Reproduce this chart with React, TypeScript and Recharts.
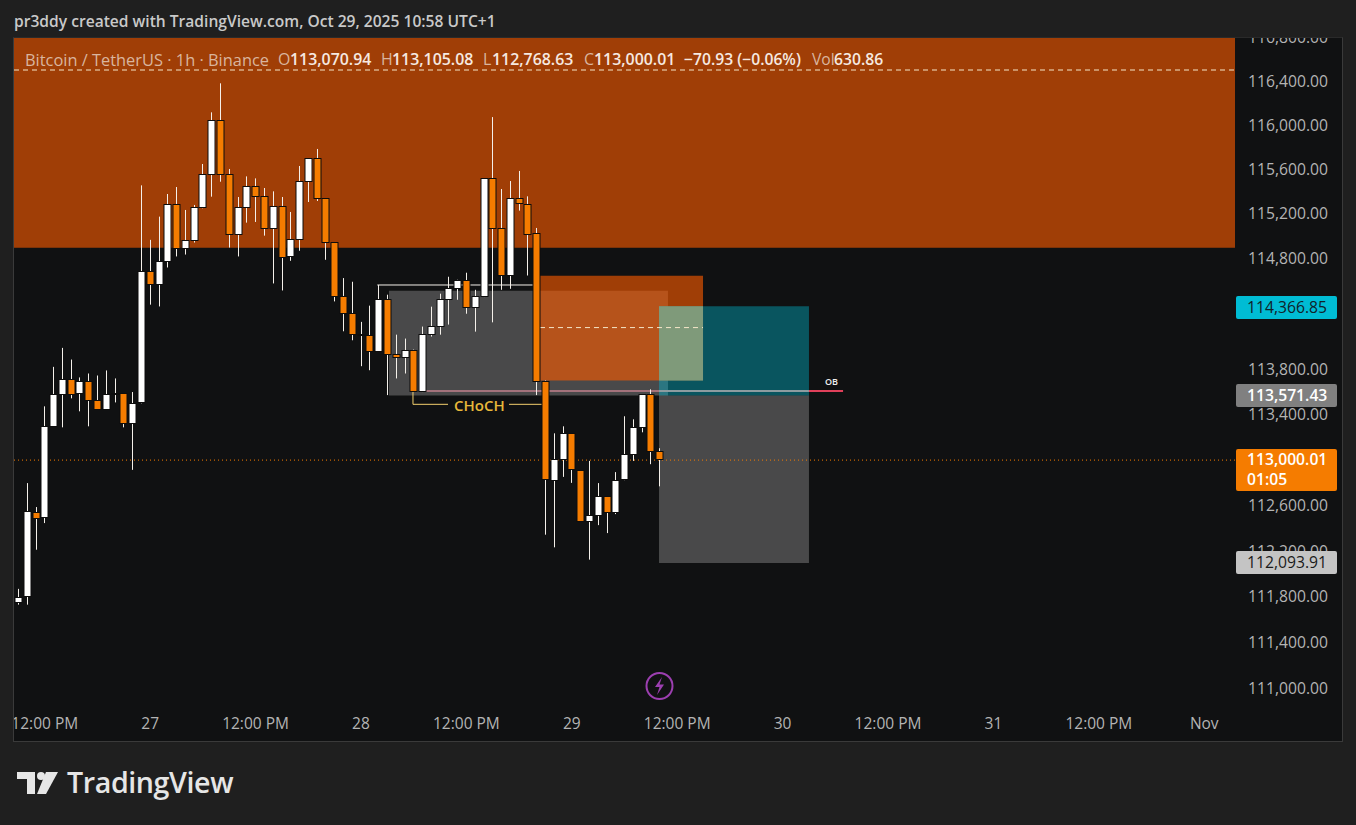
import { Bar, ComposedChart, ReferenceArea, ReferenceLine, XAxis, YAxis } from "recharts";

const opens = [111745, 111795, 112536, 112486, 113296, 113580, 113709, 113580, 113691, 113523, 113447, 113590, 113585, 113323, 113503, 114674, 114558, 114763, 115274, 114880, 114951, 115247, 115544, 116033, 115544, 115005, 115247, 115436, 115346, 115059, 115256, 114808, 114960, 115481, 115689, 115328, 114933, 114450, 114299, 114115, 114103, 113960, 114423, 113934, 113904, 113969, 113603, 114108, 114183, 114423, 114522, 114593, 114349, 114450, 115508, 115059, 114638, 115328, 115280, 115014, 113695, 112823, 113005, 113231, 112905, 112460, 112513, 112676, 112539, 112823, 113046, 113284, 113576, 113070.94];
const highs = [111868, 112797, 112586, 113476, 113827, 113996, 113892, 113733, 113768, 113750, 113795, 113724, 113585, 113603, 115454, 114963, 115172, 115376, 115439, 115232, 115277, 115647, 116115, 116379, 115602, 115349, 115535, 115517, 115430, 115400, 115349, 115214, 115629, 115689, 115783, 115328, 114933, 114620, 114587, 114228, 114373, 114558, 114471, 114114, 114079, 113981, 114186, 114364, 114480, 114632, 114605, 114668, 114515, 115508, 116072, 115421, 115493, 115584, 115355, 115070, 113706, 113237, 113299, 113231, 112905, 112993, 112797, 112676, 112894, 113388, 113361, 113576, 113627, 113105.08];
const lows = [111730, 111730, 112211, 112445, 113296, 113290, 113547, 113432, 113299, 113447, 113447, 113511, 113290, 112914, 113503, 114382, 114366, 114715, 114814, 114831, 114939, 115247, 115352, 115487, 114894, 114814, 115118, 115124, 115001, 114572, 114509, 114775, 114865, 115304, 115313, 114784, 114411, 114144, 114064, 113833, 113797, 113960, 113576, 113724, 113768, 113603, 113603, 114097, 114114, 114204, 114426, 114301, 114141, 114450, 114224, 114515, 114524, 115226, 114643, 113576, 112343, 112232, 112852, 112799, 112460, 112124, 112427, 112357, 112524, 112823, 112993, 113246, 112964, 112768.63];
const closes = [111790, 112539, 112486, 113293, 113580, 113709, 113580, 113691, 113526, 113447, 113576, 113585, 113323, 113496, 114674, 114558, 114763, 115274, 114880, 114951, 115247, 115544, 116033, 115544, 115005, 115247, 115436, 115346, 115059, 115256, 114799, 114960, 115481, 115689, 115328, 114933, 114450, 114299, 114112, 114108, 113960, 114423, 113930, 113904, 113969, 113603, 114112, 114183, 114423, 114522, 114593, 114349, 114450, 115508, 115059, 114638, 115328, 115280, 115014, 113695, 112823, 113005, 113231, 112911, 112460, 112509, 112676, 112539, 112817, 113046, 113284, 113576, 113071, 113000.01];

const priceTicks = [116800, 116400, 116000, 115600, 115200, 114800, 113800, 113400, 112600, 112200, 111800, 111400, 111000];
const timeTicks = [3, 15, 27, 39, 51, 63, 75, 87, 99, 111, 123, 135];
const timeLabels = ["12:00 PM", "27", "12:00 PM", "28", "12:00 PM", "29", "12:00 PM", "30", "12:00 PM", "31", "12:00 PM", "Nov"];

const headerItems = [
  { text: "Bitcoin / TetherUS · 1h · Binance", left: 25, size: 16.4, muted: true },
  { text: "O", left: 278, size: 15.9, muted: true },
  { text: "113,070.94", left: 290, size: 15.9 },
  { text: "H", left: 381, size: 15.9, muted: true },
  { text: "113,105.08", left: 392, size: 15.9 },
  { text: "L", left: 483, size: 15.9, muted: true },
  { text: "112,768.63", left: 492, size: 15.9 },
  { text: "C", left: 584, size: 15.9, muted: true },
  { text: "113,000.01", left: 594, size: 15.9 },
  { text: "−70.93 (−0.06%)", left: 684, size: 15.7 },
  { text: "Vol", left: 812, size: 15.7, muted: true },
  { text: "630.86", left: 834, size: 15.7 },
];

const priceTags = [
  { lines: ["114,366.85"], top: 296, height: 23, bg: "#00bcd4", color: "#10222a" },
  { lines: ["113,571.43"], top: 384, height: 23, bg: "#808080", color: "#ffffff" },
  { lines: ["113,000.01", "01:05"], top: 449, height: 42, bg: "#f57c00", color: "#ffffff" },
  { lines: ["112,093.91"], top: 551, height: 23, bg: "#c4c4c4", color: "#1a1a1a" },
];

const domainTop = 116792;
const domainBottom = 110848;
const slotCount = 139;

const candles = opens.map((open, i) => ({
  hour: i,
  up: closes[i] >= open,
  wick: [lows[i], highs[i]],
  body: [Math.min(open, closes[i]), Math.max(open, closes[i])],
}));

const FONT = "'Open Sans', sans-serif";
const ZONE = "rgba(245,88,0,0.63)";

function Wick({ x, y, width, height }: any) {
  const cx = Math.round(x + width / 2 - 0.5);
  return <rect x={cx} y={y} width={1} height={height} fill="#f4f0ea" />;
}

function Body({ x, y, width, height, payload }: any) {
  const cx = Math.round(x + width / 2 - 0.5);
  return (
    <rect
      x={cx - 3}
      y={Math.round(y) - 0.5}
      width={7}
      height={Math.max(Math.round(height), 1)}
      fill={payload.up ? "#ffffff" : "#f57c00"}
      stroke="#0d0d0d"
      strokeWidth={1}
    />
  );
}

export default function App() {
  return (
    <div style={{ position: "fixed", left: 0, top: 0, width: 1356, height: 825, background: "#1f1f1f", fontFamily: FONT, overflow: "hidden" }}>
      <div style={{ position: "absolute", left: 14, top: 10, fontSize: 15.6, fontWeight: 600, color: "#c9c9c9", whiteSpace: "nowrap" }}>
        pr3ddy created with TradingView.com, Oct 29, 2025 10:58 UTC+1
      </div>

      <div style={{ position: "absolute", left: 13, top: 37, width: 1328, height: 703, background: "#101112", border: "1px solid #3a3a3a", borderTop: "1px solid #2a2a2a" }} />

      <div style={{ position: "absolute", left: 14, top: 38 }}>
        <ComposedChart width={1328} height={703} data={candles} margin={{ top: 0, right: 0, bottom: 0, left: 0 }} barGap={-7}>
          <XAxis
            dataKey="hour"
            type="number"
            domain={[-0.5, slotCount - 0.5]}
            ticks={timeTicks}
            interval={0}
            height={35}
            axisLine={false}
            tickLine={false}
            tick={{ fill: "#b4b4b4", fontSize: 15.5, fontFamily: FONT, dy: 4 }}
            tickFormatter={(v: number) => timeLabels[timeTicks.indexOf(v)]}
          />
          <YAxis
            orientation="right"
            scale="log"
            domain={[domainBottom, domainTop]}
            allowDataOverflow
            ticks={priceTicks}
            interval={0}
            width={107}
            axisLine={false}
            tickLine={false}
            tick={{ fill: "#b4b4b4", fontSize: 15.7, fontFamily: FONT, textAnchor: "start", dx: 5, dy: 0 }}
            tickFormatter={(v: number) => v.toLocaleString("en-US", { minimumFractionDigits: 2 })}
          />

          <ReferenceArea x1={42.19} x2={73.95} y1={113571.43} y2={114507} fill="#ffffff" fillOpacity={0.24} stroke="none" />
          <ReferenceArea x1={-0.5} x2={slotCount - 0.5} y1={114891} y2={domainTop} fill={ZONE} fillOpacity={1} stroke="none" />
          <ReferenceArea x1={59.38} x2={77.94} y1={113706} y2={114641} fill={ZONE} fillOpacity={1} stroke="none" />
          <ReferenceArea x1={72.93} x2={90} y1={113571.43} y2={114366.85} fill="#00bcd4" fillOpacity={0.4} stroke="none" />
          <ReferenceArea x1={72.93} x2={90} y1={112093.91} y2={113571.43} fill="#ffffff" fillOpacity={0.24} stroke="none" />
          <ReferenceArea x1={72.93} x2={77.94} y1={113706} y2={114366.85} fill="#7f9a7a" fillOpacity={1} stroke="none" />

          <ReferenceLine segment={[{ x: 46.4, y: 113612 }, { x: 72.93, y: 113612 }]} stroke="#a3727b" strokeWidth={2} />
          <ReferenceLine segment={[{ x: 72.93, y: 113612 }, { x: 90, y: 113612 }]} stroke="#8d9ca0" strokeWidth={2} />
          <ReferenceLine segment={[{ x: 90, y: 113612 }, { x: 93.88, y: 113612 }]} stroke="#e0405a" strokeWidth={2} />

          <ReferenceLine segment={[{ x: -0.5, y: 116500 }, { x: slotCount - 0.5, y: 116500 }]} stroke="#f5e6c8" strokeDasharray="5 4" />
          <ReferenceLine segment={[{ x: 59.38, y: 114177 }, { x: 77.94, y: 114177 }]} stroke="#f5e6c8" strokeDasharray="5 4" />
          <ReferenceLine y={113000.01} stroke="#f57c00" strokeDasharray="1 3" />
          <ReferenceLine segment={[{ x: 40.86, y: 114558 }, { x: 58.58, y: 114558 }]} stroke="#f4f0ea" />
          <ReferenceLine segment={[{ x: 44.92, y: 113603 }, { x: 44.92, y: 113494 }]} stroke="#f2cf6e" />
          <ReferenceLine segment={[{ x: 44.92, y: 113494 }, { x: 48.91, y: 113494 }]} stroke="#f2cf6e" />
          <ReferenceLine segment={[{ x: 55.85, y: 113494 }, { x: 59.72, y: 113494 }]} stroke="#f2cf6e" />

          <Bar dataKey="wick" barSize={7} shape={<Wick />} isAnimationActive={false} zIndex={1000} />
          <Bar dataKey="body" barSize={7} shape={<Body />} isAnimationActive={false} zIndex={1001} />
        </ComposedChart>
      </div>

      {headerItems.map((h) => (
        <span key={h.left} style={{ position: "absolute", left: h.left, top: 48, fontSize: h.size, fontWeight: h.muted ? 400 : 600, color: h.muted ? "#d9b59e" : "#f6e9e0", whiteSpace: "nowrap" }}>
          {h.text}
        </span>
      ))}

      <span style={{ position: "absolute", left: 454, top: 395, fontSize: 15, fontWeight: 600, color: "#e8b93a" }}>CHoCH</span>
      <span style={{ position: "absolute", left: 825, top: 375, fontSize: 9, fontWeight: 600, color: "#f0f0f0" }}>OB</span>

      {priceTags.map((t) => (
        <div key={t.top} style={{ position: "absolute", left: 1236, top: t.top, width: 101, height: t.height, background: t.bg, color: t.color, borderRadius: 2, fontSize: 15.7, fontWeight: t.color === "#ffffff" ? 600 : 400, lineHeight: t.lines.length > 1 ? "20px" : `${t.height}px`, paddingLeft: 11, boxSizing: "border-box", whiteSpace: "nowrap" }}>
          {t.lines.map((l) => <div key={l}>{l}</div>)}
        </div>
      ))}

      <svg width={1356} height={825} style={{ position: "absolute", left: 0, top: 0, pointerEvents: "none" }}>
        <circle cx={659.5} cy={686} r={13} fill="none" stroke="#9c3fb0" strokeWidth={2} />
        <path d="M662 677 L655 687 L659.5 687 L657 695 L664 684.5 L659.5 684.5 Z" fill="#9c3fb0" />
        <path d="M17 772 H35 V794 H27 V779 H17 Z" fill="#e6e6e6" />
        <circle cx={41} cy={776} r={4} fill="#e6e6e6" />
        <path d="M46 772 H58 L46 794 H37 Z" fill="#e6e6e6" />
      </svg>
      <div style={{ position: "absolute", left: 67, top: 762, fontSize: 28.6, fontWeight: 600, color: "#e6e6e6", letterSpacing: -0.4 }}>TradingView</div>
    </div>
  );
}
